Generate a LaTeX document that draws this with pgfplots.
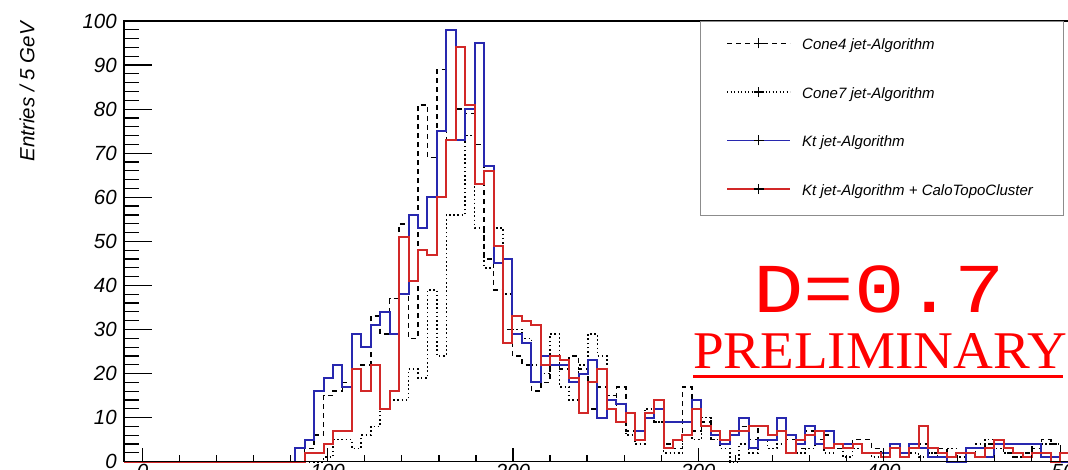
\documentclass[border=0pt]{standalone}
\usepackage{fontspec}
\setmainfont{Liberation Sans}
\newfontfamily\prelimmono{Liberation Mono}
\newfontfamily\prelimserif{Liberation Serif}
\usepackage{pgfplots}
\usepackage{pgfplotstable}
\pgfplotsset{compat=1.18}

\definecolor{ktblue}{RGB}{40,40,175}
\definecolor{ktred}{RGB}{210,40,40}
\definecolor{prelimred}{RGB}{255,0,0}

% Jet invariant mass spectra, 5 GeV bins (left bin edges; last row closes the histogram)
\pgfplotstableread{
x     c4 c7 kt ktc
-10   0  0  0  0
82.4  0  0  3  0
87.5  3  0  5  2
92.6  6  0  16 2
97.7  15 1  19 4
102.8 16 5  22 7
107.9 18 5  17 7
113.0 21 3  29 21
118.1 22 6  26 16
123.2 33 8  31 22
128.3 29 12 34 12
133.4 37 14 29 16
138.5 54 14 38 51
143.6 28 21 56 41
148.7 81 19 53 48
153.8 69 39 60 47
158.9 89 24 75 60
164.0 73 56 98 73
169.1 80 56 73 94
174.2 79 74 80 81
179.3 72 53 95 63
184.4 46 44 67 66
189.5 39 53 45 49
194.6 30 38 46 27
199.7 24 30 29 33
204.8 22 28 27 32
209.9 16 22 18 31
215.0 18 20 24 22
220.1 22 29 22 24
225.2 21 17 22 23
230.3 24 14 18 19
235.4 21 22 20 11
240.5 12 29 23 18
245.6 17 24 10 21
250.7 15 15 14 12
255.8 17 9  13 9
260.9 7  6  11 11
266.0 5  4  7  5
271.1 10 12 10 11
276.2 9  9  12 14
281.3 4  2  9  3
286.4 3  2  9  5
291.5 17 6  9  6
296.6 7  5  14 12
301.7 9  10 8  8
306.8 5  5  6  7
311.9 4  3  4  5
317.0 6  0  6  7
322.1 8  4  10 7
327.2 5  2  3  8
332.3 8  5  5  8
337.4 6  3  5  6
342.5 7  4  10 7
347.6 5  6  6  2
352.7 3  2  4  5
357.8 7  3  8  6
362.9 5  4  4  7
368.0 6  2  7  3
373.1 3  3  4  4
378.2 4  1  4  3
383.3 5  3  4  4
388.4 5  2  2  2
393.5 3  1  2  2
398.6 2  2  2  1
403.7 3  3  4  3
408.8 2  1  2  1
413.9 3  2  4  3
419.0 4  1  3  8
424.1 2  2  1  3
429.2 3  1  1  2
434.3 1  3  0  1
439.4 2  1  0  2
444.5 2  2  3  2
449.6 1  4  3  1
454.7 4  5  1  3
459.8 5  3  4  5
464.9 2  2  4  3
470.0 1  1  4  2
475.1 2  2  4  1
480.2 3  4  4  2
485.3 5  4  1  2
490.4 4  4  1  0
495.5 2  2  0  2
500.0 2  2  0  2
}\jetmass

\newcommand\axisfont{\fontsize{20.5bp}{24bp}\selectfont\itshape}
\newcommand\legfont{\fontsize{15bp}{18bp}\selectfont\itshape}

\begin{document}
\begin{tikzpicture}
\pgfplotsset{
  framebox/.style={scale only axis, width=944.7bp, height=440.7bp,
    xmin=-10, xmax=500, ymin=0, ymax=100, at={(0,0)}, anchor=south west},
}
% frame, y axis and the four histograms
\begin{axis}[framebox, clip=false,
  axis line style={line width=1.5bp, black},
  xtick=\empty,
  ytick={0,10,...,100}, minor y tick num=4, ytick pos=left,
  tick align=inside, major tick length=28bp, minor tick length=15bp,
  tick style={line width=1.2bp, black},
  yticklabel style={anchor=east, inner sep=0pt, xshift=-7bp, font=\axisfont},
  /pgf/number format/assume math mode=true]
\addplot[const plot, black, line width=1.6bp, dash pattern=on 5bp off 4bp]
  table[x=x, y=c4] {\jetmass};
\addplot[const plot, black, line width=1.6bp, dash pattern=on 1.6bp off 2.6bp]
  table[x=x, y=c7] {\jetmass};
\addplot[const plot, ktblue, line width=2bp]
  table[x=x, y=kt] {\jetmass};
\addplot[const plot, ktred, line width=2bp]
  table[x=x, y=ktc] {\jetmass};
\end{axis}
% x axis with its own (shorter) tick marks
\begin{axis}[framebox, hide y axis, axis x line*=bottom,
  x axis line style={line width=1.5bp, black},
  xtick={0,100,...,500}, minor x tick num=4,
  tick align=inside, major tick length=14bp, minor tick length=7bp,
  tick style={line width=1.2bp, black},
  xticklabel style={anchor=north, inner sep=0pt, yshift=-2bp, font=\axisfont},
  /pgf/number format/assume math mode=true]
\end{axis}

% y-axis title
\node[rotate=90, anchor=base east, inner sep=0pt, font=\axisfont]
  at (-89.5bp,439.7bp) {Entries / 5 GeV};

% legend
\draw[line width=0.8bp, black!45] (576bp,440.7bp) rectangle (939bp,246.7bp);
\draw[black, line width=1.3bp, dash pattern=on 5bp off 4bp] (603bp,418.4bp) -- (666bp,418.4bp);
\draw[black, line width=1.3bp] (634.5bp,413.4bp) -- (634.5bp,423.4bp) (629.5bp,418.4bp) -- (639.5bp,418.4bp);
\node[anchor=base west, inner sep=0pt, font=\legfont] at (678bp,412.2bp) {Cone4 jet-Algorithm};
\draw[black, line width=1.3bp, dash pattern=on 1.3bp off 2.2bp] (603bp,369.8bp) -- (666bp,369.8bp);
\draw[black, line width=1.3bp] (634.5bp,364.8bp) -- (634.5bp,374.8bp) (629.5bp,369.8bp) -- (639.5bp,369.8bp);
\node[anchor=base west, inner sep=0pt, font=\legfont] at (678bp,363.6bp) {Cone7 jet-Algorithm};
\draw[ktblue, line width=1.6bp] (603bp,321.2bp) -- (666bp,321.2bp);
\draw[black, line width=1.3bp] (634.5bp,316.2bp) -- (634.5bp,326.2bp) (629.5bp,321.2bp) -- (639.5bp,321.2bp);
\node[anchor=base west, inner sep=0pt, font=\legfont] at (678bp,315.0bp) {Kt jet-Algorithm};
\draw[ktred, line width=1.6bp] (603bp,272.6bp) -- (666bp,272.6bp);
\draw[black, line width=1.3bp] (634.5bp,267.6bp) -- (634.5bp,277.6bp) (629.5bp,272.6bp) -- (639.5bp,272.6bp);
\node[anchor=base west, inner sep=0pt, font=\legfont] at (678bp,266.4bp) {Kt jet-Algorithm + CaloTopoCluster};

% stamp
\node[anchor=base west, inner sep=0pt, text=prelimred, xscale=1.2,
  font=\prelimmono\fontsize{70bp}{76bp}\selectfont] at (629bp,148.7bp) {D=0.7};
\node[anchor=base west, inner sep=0pt, text=prelimred, xscale=1.04,
  font=\prelimserif\fontsize{53bp}{60bp}\selectfont] at (569bp,92.7bp) {PRELIMINARY};
\draw[prelimred, line width=3bp] (569bp,84.7bp) -- (939bp,84.7bp);

\pgfresetboundingbox
\path[use as bounding box] (-124bp,-8.3bp) rectangle (944bp,461.7bp);
\end{tikzpicture}
\end{document}
